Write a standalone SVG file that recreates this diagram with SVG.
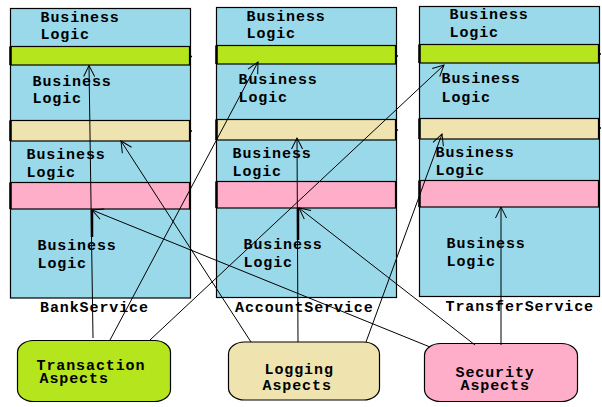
<svg xmlns="http://www.w3.org/2000/svg" width="602" height="407" viewBox="0 0 602 407">
<defs>
<style>
.col{fill:#99D9EA;stroke:#000;stroke-width:1.2}
.g{fill:#B5E61D;stroke:#000;stroke-width:1.2}
.b{fill:#EFE4B0;stroke:#000;stroke-width:1.2}
.p{fill:#FFAEC9;stroke:#000;stroke-width:1.2}
.edge{stroke:#000;stroke-width:2.5;fill:none}
.tick{stroke:#000;stroke-width:1.5}
text{font-family:"Liberation Mono","Courier New",monospace;font-weight:bold;font-size:15px;letter-spacing:0.9px;fill:#000}
.conn line{stroke:#000;stroke-width:1;fill:none}
</style>
<marker id="ah" markerWidth="14" markerHeight="14" refX="12" refY="7" orient="auto" markerUnits="userSpaceOnUse">
<path d="M1,1.5 L12,7 L1,12.5" fill="none" stroke="#000" stroke-width="1"/>
</marker>
</defs>
<rect width="602" height="407" fill="#fff"/>

<g id="bank-service">
<rect class="col" x="10.5" y="8.5" width="180" height="289.5"/>
<rect class="g" x="10.5" y="46.5" width="179" height="18.5"/>
<rect class="b" x="10.5" y="120.5" width="179" height="20.5"/>
<rect class="p" x="10.5" y="182.5" width="179" height="26.5"/>
<path class="edge" d="M10.5,46.5V65M10.5,120.5V141M10.5,182.5V209"/>
<path class="tick" d="M189,56.5h3M189,131h3"/>
<text x="40.5" y="21.7">Business</text><text x="40.5" y="39.3">Logic</text>
<text x="32.5" y="86">Business</text><text x="32.5" y="103">Logic</text>
<text x="26.5" y="159.3">Business</text><text x="26.5" y="176.7">Logic</text>
<text x="37.5" y="250">Business</text><text x="37.5" y="267.7">Logic</text>
<text x="40" y="311.7">BankService</text>
</g>

<g id="account-service">
<rect class="col" x="216.5" y="7.5" width="180" height="290"/>
<rect class="g" x="216.5" y="45.5" width="179" height="18.5"/>
<rect class="b" x="216.5" y="119.5" width="179" height="20.5"/>
<rect class="p" x="216.5" y="181.5" width="179" height="26.5"/>
<path class="edge" d="M216.5,45.5V64M216.5,119.5V140M216.5,181.5V208"/>
<path class="tick" d="M395,56h3M395,130h3M396,191v3"/>
<text x="246.5" y="20.7">Business</text><text x="246.5" y="38.3">Logic</text>
<text x="238.5" y="84.3">Business</text><text x="238.5" y="102.3">Logic</text>
<text x="232.5" y="157.7">Business</text><text x="232.5" y="175.7">Logic</text>
<text x="243.5" y="249.3">Business</text><text x="243.5" y="266.7">Logic</text>
<text x="235" y="311.7">AccountService</text>
</g>

<g id="transfer-service">
<rect class="col" x="419.5" y="6.5" width="180" height="290"/>
<rect class="g" x="419.5" y="44.5" width="179" height="18.5"/>
<rect class="b" x="419.5" y="118.5" width="179" height="20.5"/>
<rect class="p" x="419.5" y="180.5" width="179" height="26.5"/>
<path class="edge" d="M419.5,44.5V63M419.5,118.5V139M419.5,180.5V207"/>
<path class="tick" d="M598,54h3M598,128h3M599,191v3"/>
<text x="449.5" y="19.3">Business</text><text x="449.5" y="37.3">Logic</text>
<text x="441.5" y="83.3">Business</text><text x="441.5" y="101.7">Logic</text>
<text x="435.5" y="156.7">Business</text><text x="435.5" y="174.7">Logic</text>
<text x="446.5" y="247.7">Business</text><text x="446.5" y="265.7">Logic</text>
<text x="445.5" y="311">TransferService</text>
</g>

<g id="transaction-aspects">
<rect class="g" x="17.5" y="340.5" width="153" height="61" rx="16" ry="12"/>
<text x="36.5" y="369.5">Transaction</text><text x="39.5" y="382.5">Aspects</text>
</g>

<g id="logging-aspects">
<rect class="b" x="228.5" y="342" width="151" height="58" rx="16" ry="12"/>
<text x="264.5" y="374">Logging</text><text x="262.5" y="389.5">Aspects</text>
</g>

<g id="security-aspects">
<rect class="p" x="424.5" y="343.5" width="153" height="58" rx="16" ry="12"/>
<text x="455.5" y="377">Security</text><text x="460.5" y="389.8">Aspects</text>
</g>

<g id="connectors" class="conn">
<line x1="93" y1="338" x2="89" y2="65.5" marker-end="url(#ah)"/>
<line x1="110" y1="340" x2="258" y2="62" marker-end="url(#ah)"/>
<line x1="150" y1="340" x2="444" y2="65" marker-end="url(#ah)"/>
<line x1="251" y1="342" x2="121" y2="141" marker-end="url(#ah)"/>
<line x1="298" y1="342" x2="297" y2="138" marker-end="url(#ah)"/>
<line x1="366" y1="342" x2="442" y2="134" marker-end="url(#ah)"/>
<line x1="430" y1="347" x2="92" y2="210" marker-end="url(#ah)"/>
<line x1="475" y1="345" x2="299" y2="208" marker-end="url(#ah)"/>
<line x1="501" y1="345" x2="501" y2="207" marker-end="url(#ah)"/>
<path class="edge" d="M92,210V237M298,208V240"/>
</g>
</svg>
